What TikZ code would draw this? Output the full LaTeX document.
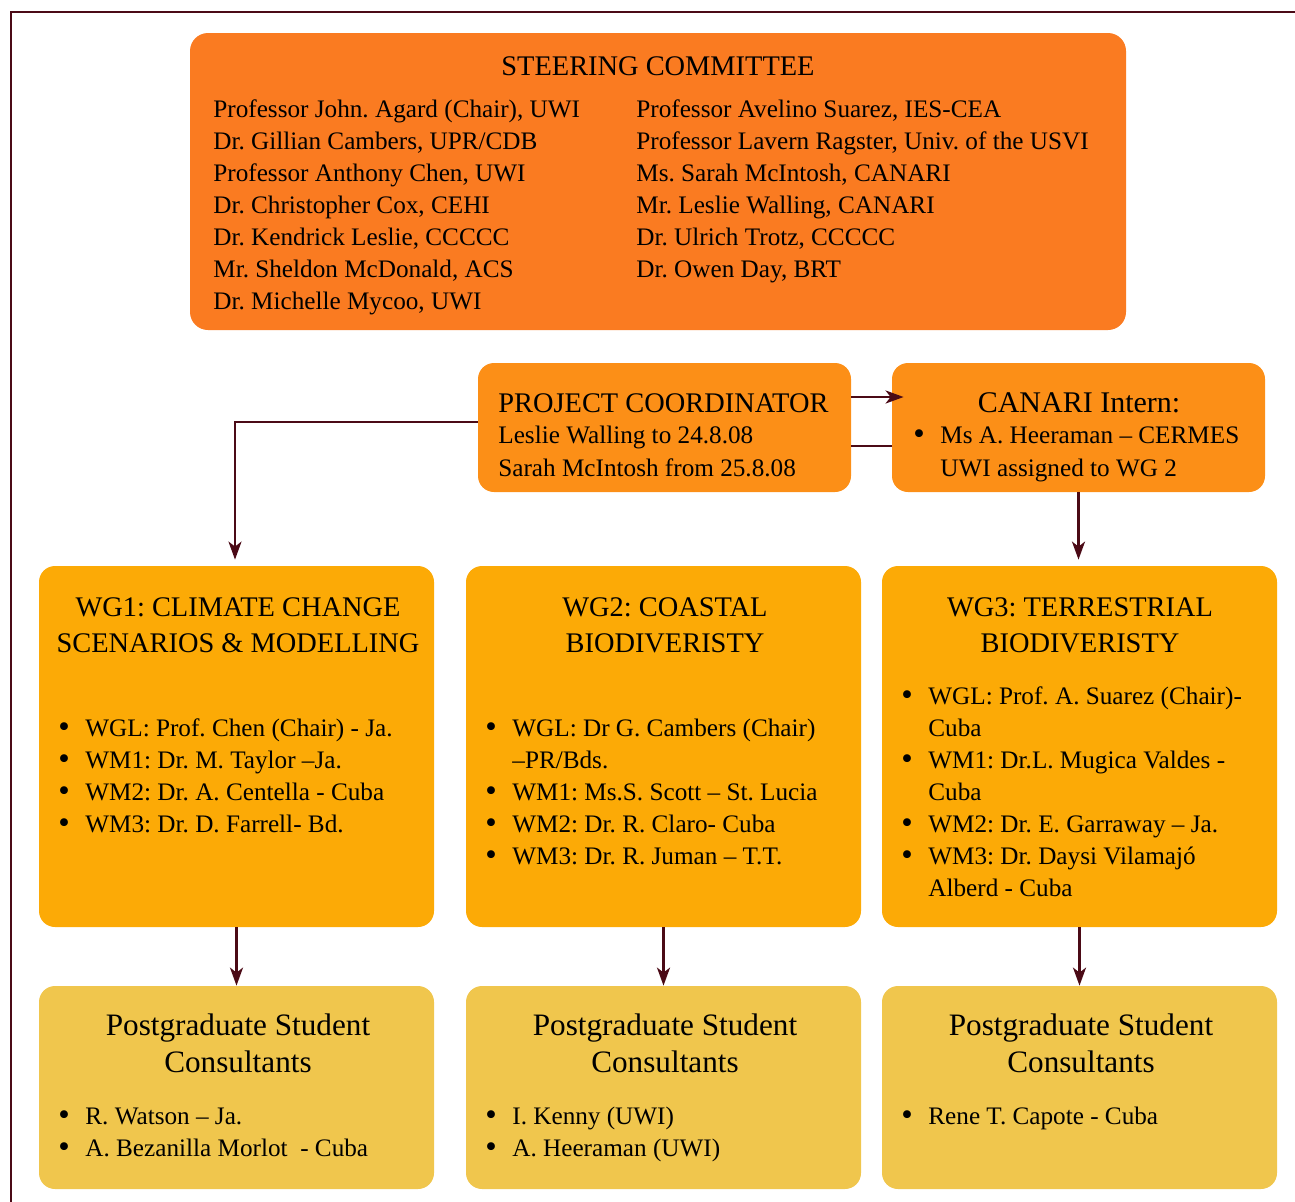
\documentclass[tikz,border=0pt]{standalone}
\usepackage{fontspec}
\usepackage{graphicx}
\setmainfont{Liberation Serif}
\usetikzlibrary{arrows.meta}
\frenchspacing

\definecolor{steerorange}{HTML}{FA7B21}
\definecolor{coordorange}{HTML}{FC8F17}
\definecolor{wgyellow}{HTML}{FCAA06}
\definecolor{pgyellow}{HTML}{F0C64D}
\definecolor{darkmaroon}{HTML}{4B0A16}

\newcommand{\bodyfont}{\fontsize{12.6}{16}\selectfont}
\newcommand{\capsfont}{\fontsize{14.2}{18.3}\selectfont}
\newcommand{\headfont}{\fontsize{15.6}{18.5}\selectfont}
\newcommand{\internfont}{\fontsize{15}{18.5}\selectfont}
\newcommand{\itm}{\makebox[13.5pt][l]{\raisebox{-0.9pt}{\scalebox{1.3}{\textbullet}}}}
\newcommand{\cnt}{\hspace*{13.5pt}}

\begin{document}
\begin{tikzpicture}[x=0.5pt,y=-0.5pt,
	box/.style={rounded corners=8pt,inner sep=0pt,minimum width=197.5pt},
	txt/.style={inner sep=0pt,anchor=base west,font=\bodyfont},
	ttl/.style={inner sep=0pt,anchor=base},
	conn/.style={draw=darkmaroon,line width=1.2pt},
	arr/.style={conn,-{Stealth[length=9pt,width=6.5pt,inset=2.5pt]}}]
		\useasboundingbox (0,0) rectangle (1295,1201);
		\draw[darkmaroon,line width=1pt] (11,1230) -- (11,11.5) -- (1320,11.5);
		
		\node[box,fill=steerorange,minimum width=468pt,minimum height=148.5pt,rounded corners=9pt] (steer) at (658,181.5) {};
		\node[ttl,font=\capsfont] (steertitle) at (658,75) {STEERING COMMITTEE};
		\foreach \t [count=\i] in {{Professor John. Agard (Chair), UWI},{Dr. Gillian Cambers, UPR/CDB},
			{Professor Anthony Chen, UWI},{Dr. Christopher Cox, CEHI},{Dr. Kendrick Leslie, CCCCC},
			{Mr. Sheldon McDonald, ACS},{Dr. Michelle Mycoo, UWI}}
			\node[txt] (steerleft\i) at (213,{117+32*(\i-1)}) {\t};
		\foreach \t [count=\i] in {{Professor Avelino Suarez, IES-CEA},{Professor Lavern Ragster, Univ. of the USVI},
			{Ms. Sarah McIntosh, CANARI},{Mr. Leslie Walling, CANARI},{Dr. Ulrich Trotz, CCCCC},
			{Dr. Owen Day, BRT}}
			\node[txt] (steerright\i) at (636,{117+32*(\i-1)}) {\t};
		
		\node[box,fill=coordorange,minimum width=186.5pt,minimum height=64.5pt] (coord) at (664.5,427.5) {};
		\node[ttl,anchor=base west,font=\capsfont] (coordtitle) at (498,412.7) {PROJECT COORDINATOR};
		\node[txt] (coordone) at (498,443) {Leslie Walling to 24.8.08};
		\node[txt] (coordtwo) at (498,476) {Sarah McIntosh from 25.8.08};
		
		\node[box,fill=coordorange,minimum width=186.5pt,minimum height=64.5pt] (intern) at (1078.5,427.5) {};
		\node[ttl,font=\internfont] (interntitle) at (1079,412.7) {CANARI Intern:};
		\node[txt] (internone) at (913,443) {\itm Ms A. Heeraman – CERMES};
		\node[txt] (interntwo) at (913,476) {\cnt UWI assigned to WG 2};
		
		\node[box,fill=wgyellow,minimum height=180.5pt] (wgone) at (236.5,746.5) {};
		\node[box,fill=wgyellow,minimum height=180.5pt] (wgtwo) at (663.5,746.5) {};
		\node[box,fill=wgyellow,minimum height=180.5pt] (wgthree) at (1079.5,746.5) {};
		\node[ttl,font=\capsfont] (wgonea) at (238,616) {WG1: CLIMATE CHANGE};
		\node[ttl,font=\capsfont] (wgoneb) at (238,652.7) {SCENARIOS \& MODELLING};
		\node[ttl,font=\capsfont] (wgtwoa) at (665,616) {WG2: COASTAL};
		\node[ttl,font=\capsfont] (wgtwob) at (665,652.7) {BIODIVERISTY};
		\node[ttl,font=\capsfont] (wgthreea) at (1080,616) {WG3: TERRESTRIAL};
		\node[ttl,font=\capsfont] (wgthreeb) at (1080,652.7) {BIODIVERISTY};
		\foreach \t [count=\i] in {{\itm WGL: Prof. Chen (Chair) - Ja.},{\itm WM1: Dr. M. Taylor –Ja.},
			{\itm WM2: Dr. A. Centella - Cuba},{\itm WM3: Dr. D. Farrell- Bd.}}
			\node[txt] (wgonelist\i) at (58,{736+32*(\i-1)}) {\t};
		\foreach \t [count=\i] in {{\itm WGL: Dr G. Cambers (Chair)},{\cnt –PR/Bds.},
			{\itm WM1: Ms.S. Scott – St. Lucia},{\itm WM2: Dr. R. Claro- Cuba},{\itm WM3: Dr. R. Juman – T.T.}}
			\node[txt] (wgtwolist\i) at (485,{736+32*(\i-1)}) {\t};
		\foreach \t [count=\i] in {{\itm WGL: Prof. A. Suarez (Chair)-},{\cnt Cuba},
			{\itm WM1: Dr.L. Mugica Valdes -},{\cnt Cuba},{\itm WM2: Dr. E. Garraway – Ja.},
			{\itm WM3: Dr. Daysi Vilamajó},{\cnt Alberd - Cuba}}
			\node[txt] (wgthreelist\i) at (901,{704+32*(\i-1)}) {\t};
		
		\foreach \n/\x in {pgone/236.5,pgtwo/663.5,pgthree/1079.5}{
			\node[box,fill=pgyellow,minimum height=101.5pt] (\n) at (\x,1087.5) {};
			\node[ttl,font=\headfont] (\n a) at ({\x+1.5},1035.7) {Postgraduate Student};
			\node[ttl,font=\headfont] (\n b) at ({\x+1.5},1072.7) {Consultants};
		}
		\node[txt] (pgonelist1) at (58,1124) {\itm R. Watson – Ja.};
		\node[txt] (pgonelist2) at (58,1156) {\itm A. Bezanilla Morlot\ \ - Cuba};
		\node[txt] (pgtwolist1) at (485,1124) {\itm I. Kenny (UWI)};
		\node[txt] (pgtwolist2) at (485,1156) {\itm A. Heeraman (UWI)};
		\node[txt] (pgthreelist1) at (901,1124) {\itm Rene T. Capote - Cuba};
		
		\draw[arr] ([yshift=15.25pt]coord.east) -- ([xshift=6pt,yshift=15.25pt]intern.west);
		\draw[conn] ([yshift=-9.25pt]coord.east) -- ([yshift=-9.25pt]intern.west);
		\draw[arr] ([yshift=2.75pt]coord.west) -| ([xshift=-0.75pt,yshift=3pt]wgone.north);
		\draw[arr,shorten >=3pt] (intern.south) -- (intern.south |- wgthree.north);
		\draw[arr] (wgone.south) -- (pgone.north);
		\draw[arr] (wgtwo.south) -- (pgtwo.north);
		\draw[arr] (wgthree.south) -- (pgthree.north);
	\end{tikzpicture}
\end{document}
